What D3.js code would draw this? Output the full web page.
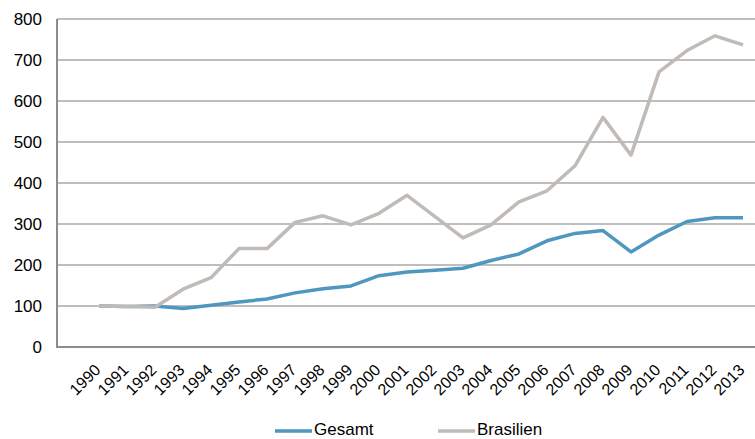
<!DOCTYPE html>
<html>
<head>
<meta charset="utf-8">
<script src="https://cdn.jsdelivr.net/npm/d3@7"></script>
<style>
  html, body { margin: 0; padding: 0; background: #fff; }
  svg { display: block; font-family: "Liberation Sans", Arial, sans-serif; }
</style>
</head>
<body>
<svg id="chart" width="755" height="439"></svg>
<script>
const years = ["1990","1991","1992","1993","1994","1995","1996","1997","1998","1999","2000","2001",
  "2002","2003","2004","2005","2006","2007","2008","2009","2010","2011","2012","2013"];
const gesamt = [100, 99, 100, 94, 102, 110, 117, 132, 142, 149, 174, 183,
  187, 192, 211, 227, 259, 277, 284, 232, 273, 306, 315, 315];
const brasilien = [100, 99, 97, 141, 169, 240, 240, 304, 320, 298, 326, 370,
  318, 266, 298, 354, 381, 442, 560, 468, 671, 723, 759, 737];
const yTicks = [0, 100, 200, 300, 400, 500, 600, 700, 800];
const seriesNames = ["Gesamt", "Brasilien"];
const seriesColors = ["#4f97be", "#c0bbb6"];

const svg = d3.select("#chart");
const plotLeft = 57, plotRight = 757, plotTop = 19, plotBottom = 347;

// Category axis keeps one empty slot before the first year
const x = d3.scalePoint()
  .domain(["", ...years])
  .range([plotLeft, plotRight])
  .padding(0.5);
const y = d3.scaleLinear().domain([0, 800]).range([plotBottom, plotTop]);

// Horizontal gridlines
svg.append("g")
  .selectAll("line")
  .data(yTicks.filter(d => d > 0))
  .join("line")
  .attr("x1", plotLeft).attr("x2", plotRight)
  .attr("y1", d => y(d)).attr("y2", d => y(d))
  .attr("stroke", "#a8a8a8")
  .attr("stroke-width", 1.5);

// Value axis labels
const yAxis = d3.axisLeft(y).tickValues(yTicks).tickSize(0).tickPadding(15);
const gy = svg.append("g").attr("transform", `translate(${plotLeft},0)`).call(yAxis);
gy.select(".domain").remove();
gy.selectAll("text")
  .attr("font-size", 17)
  .attr("font-family", "Liberation Sans, Arial, sans-serif")
  .attr("fill", "#000");

// Axis lines
svg.append("line")
  .attr("x1", plotLeft).attr("x2", plotLeft).attr("y1", plotTop).attr("y2", plotBottom)
  .attr("stroke", "#8c8c8c").attr("stroke-width", 2);
svg.append("line")
  .attr("x1", plotLeft - 1).attr("x2", plotRight).attr("y1", plotBottom).attr("y2", plotBottom)
  .attr("stroke", "#8c8c8c").attr("stroke-width", 2);

// Year labels, rotated
const xAxis = d3.axisBottom(x).tickValues(years).tickSize(0).tickPadding(0);
const gx = svg.append("g").attr("transform", `translate(0,${plotBottom})`).call(xAxis);
gx.select(".domain").remove();
gx.selectAll("text")
  .attr("font-size", 16)
  .attr("font-family", "Liberation Sans, Arial, sans-serif")
  .attr("fill", "#000")
  .attr("text-anchor", "end")
  .attr("dy", null)
  .attr("y", null)
  .attr("transform", "translate(-1,21) rotate(-45)")
  .attr("dominant-baseline", "middle");

// Series lines
const line = d3.line().x((d, i) => x(years[i])).y(d => y(d));
[gesamt, brasilien].forEach((vals, k) => {
  svg.append("path")
    .datum(vals)
    .attr("fill", "none")
    .attr("stroke", seriesColors[k])
    .attr("stroke-width", 3.5)
    .attr("stroke-linejoin", "round")
    .attr("d", line);
});

// Legend
const legendX = [275, 438];
const legendY = 431;
seriesNames.forEach((name, k) => {
  const g = svg.append("g").attr("transform", `translate(${legendX[k]},${legendY})`);
  g.append("line")
    .attr("x1", 0).attr("x2", 37).attr("y1", 0).attr("y2", 0)
    .attr("stroke", seriesColors[k]).attr("stroke-width", 3.5);
  g.append("text")
    .attr("x", 39).attr("y", 0)
    .attr("dominant-baseline", "middle")
    .attr("font-size", 17)
    .attr("fill", "#000")
    .text(name);
});
</script>
</body>
</html>
